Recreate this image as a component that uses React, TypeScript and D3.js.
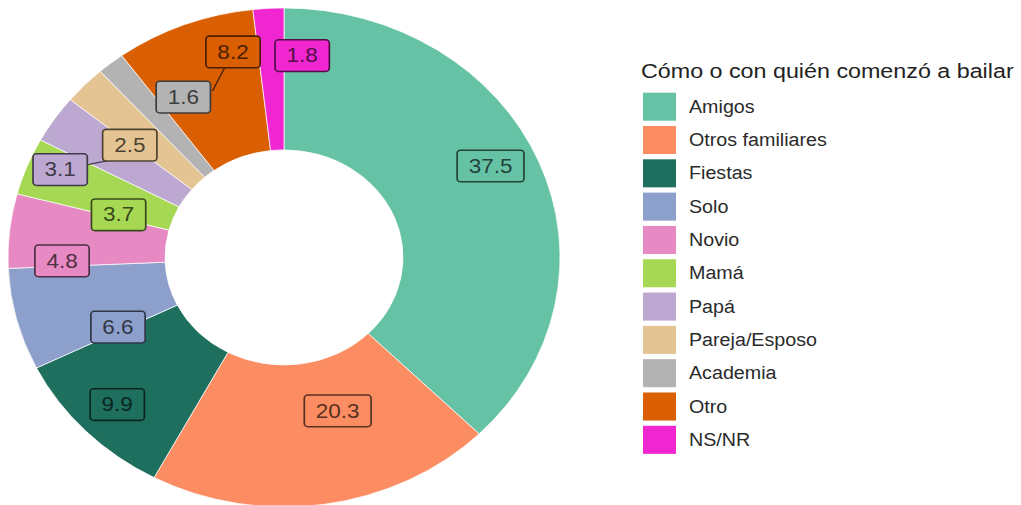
import React from 'react';
import * as d3 from 'd3';

// ---- data ----
const categories = ['Amigos', 'Otros familiares', 'Fiestas', 'Solo', 'Novio', 'Mamá', 'Papá', 'Pareja/Esposo', 'Academia', 'Otro', 'NS/NR'];
const percentages = [37.5, 20.3, 9.9, 6.6, 4.8, 3.7, 3.1, 2.5, 1.6, 8.2, 1.8];
const palette = ['#66C2A5', '#FC8D62', '#1F6F5E', '#8DA0CB', '#E78AC3', '#A6D854', '#BDA8D2', '#E5C494', '#B3B3B3', '#D95F02', '#F026D0'];
const legendTitle = 'Cómo o con quién comenzó a bailar';

// ---- layout (label placement after repel, relative to each slice's centroid) ----
const labelAngleShift = [-3.6, -9.1, -0.2, -10.5, -7.1, -5.5, -10.2, -4.9, 9.3, 8.6, 7.9];
const labelRadius = [230, 178, 233, 183, 222, 172, 244, 198, 204, 233, 224];

const W = 1021;
const H = 505;
const SQUISH = 0.904;
const CX = 284;
const CY = 284.8;
const R_OUT = 276;
const R_IN = 119;
const R_MID = (R_OUT + R_IN) / 2;
const FONT = '"Liberation Sans", Arial, Helvetica, sans-serif';
const LABEL_FS = 22.5;

let measureCtx: CanvasRenderingContext2D | null = null;
function textWidth(s: string, fs: number) {
  if (!measureCtx) {
    const c = document.createElement('canvas');
    measureCtx = c.getContext('2d');
  }
  if (!measureCtx) return s.length * fs * 0.55;
  measureCtx.font = `${fs}px "Liberation Sans", Arial, sans-serif`;
  return measureCtx.measureText(s).width;
}

export default function App() {
  const pie = d3.pie<number>().sort(null).value((d) => d);
  const arcs = pie(percentages);
  const arcGen = d3.arc<d3.PieArcDatum<number>>().innerRadius(R_IN).outerRadius(R_OUT);
  const color = d3.scaleOrdinal<string, string>().domain(categories).range(palette);
  const dark = (c: string) => d3.interpolateRgb(c, '#000')(0.66);

  const legendY = d3.scaleBand<string>().domain(categories).range([102.5 - 2.9, 102.5 - 2.9 + 36.85 * categories.length]).paddingInner(0.158).paddingOuter(0.079);

  const labels = arcs.map((a, i) => {
    const mid = (a.startAngle + a.endAngle) / 2;
    const ax = CX + R_MID * Math.sin(mid);
    const ay = CY - R_MID * Math.cos(mid);
    const la = mid + (labelAngleShift[i] * Math.PI) / 180;
    const lx = CX + labelRadius[i] * Math.sin(la);
    const ly = CY - labelRadius[i] * Math.cos(la);
    const txt = percentages[i].toFixed(1);
    const w = textWidth(txt, LABEL_FS) + 23;
    const h = 35;
    const dx = ax - lx;
    const dy = ay - ly;
    const t = Math.min(Math.abs(dx) > 1e-6 ? w / 2 / Math.abs(dx) : Infinity, Math.abs(dy) > 1e-6 ? h / 2 / Math.abs(dy) : Infinity);
    const remain = (1 - t) * Math.hypot(dx, dy);
    const seg = t < 1 && remain > 18 ? { x1: lx + t * dx, y1: ly + t * dy, x2: ax, y2: ay } : null;
    return { i, lx, ly, w, h, txt, seg };
  });

  return (
    <svg width={W} height={H} style={{ position: 'absolute', left: 0, top: 0, background: '#fff' }} fontFamily={FONT}>
      <rect width={W} height={H} fill="#fff" />
      <g transform={`scale(1,${SQUISH})`}>
        <g transform={`translate(${CX},${CY})`}>
          {arcs.map((a, i) => (
            <path key={categories[i]} d={arcGen(a) || ''} fill={color(categories[i])} stroke="#fff" strokeWidth={1} strokeOpacity={0.75} />
          ))}
        </g>
        {labels.map((l) => {
          const c = color(categories[l.i]);
          return (
            <g key={`lab-${l.i}`}>
              {l.seg && <line x1={l.seg.x1} y1={l.seg.y1} x2={l.seg.x2} y2={l.seg.y2} stroke={dark(c)} strokeWidth={1.4} />}
              <rect x={l.lx - l.w / 2} y={l.ly - l.h / 2} width={l.w} height={l.h} rx={3.5} fill={c} stroke={dark(c)} strokeWidth={1.7} />
              <text x={l.lx} y={l.ly} textAnchor="middle" dominantBaseline="central" fontSize={LABEL_FS} fill={dark(c)}>
                {l.txt}
              </text>
            </g>
          );
        })}
        <text x={641} y={86.3} fontSize={23.3} fill="#222">
          {legendTitle}
        </text>
        {categories.map((cat) => {
          const y = legendY(cat) || 0;
          const bh = legendY.bandwidth();
          return (
            <g key={`leg-${cat}`}>
              <rect x={643} y={y} width={33} height={bh} fill={color(cat)} />
              <text x={689} y={y + bh / 2} dominantBaseline="central" fontSize={19.7} fill="#2a2a2a">
                {cat}
              </text>
            </g>
          );
        })}
      </g>
    </svg>
  );
}
